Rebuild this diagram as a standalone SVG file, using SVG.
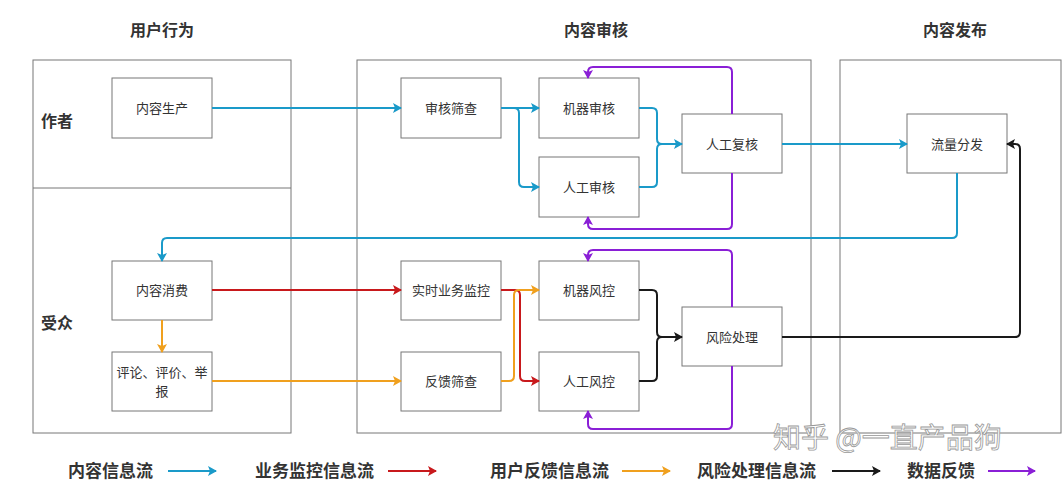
<svg xmlns="http://www.w3.org/2000/svg" width="1062" height="484" viewBox="0 0 1062 484">
<style>
text{font-family:"Noto Sans CJK SC","Noto Sans",sans-serif;fill:#333}
.h{font-size:16px;font-weight:bold;text-anchor:middle}
.n rect{fill:#fff;stroke:#777;stroke-width:1}
.n text{font-size:13px;text-anchor:middle}
.p{fill:#fff;stroke:#777;stroke-width:1}
.c path{fill:none;stroke-width:2}
.b{stroke:#1a9ac9}.r{stroke:#c8191c}.o{stroke:#f0a01e}.k{stroke:#1a1a1a}.u{stroke:#8a1fd6}
.lg{font-size:17px;font-weight:bold}
.la{fill:none;stroke-width:2}
</style>
<defs>
<marker id="mb" markerWidth="10" markerHeight="10" refX="8" refY="5" orient="auto" markerUnits="userSpaceOnUse"><path d="M0,0L9,5L0,10L2,5Z" fill="#1a9ac9"/></marker>
<marker id="mr" markerWidth="10" markerHeight="10" refX="8" refY="5" orient="auto" markerUnits="userSpaceOnUse"><path d="M0,0L9,5L0,10L2,5Z" fill="#c8191c"/></marker>
<marker id="mo" markerWidth="10" markerHeight="10" refX="8" refY="5" orient="auto" markerUnits="userSpaceOnUse"><path d="M0,0L9,5L0,10L2,5Z" fill="#f0a01e"/></marker>
<marker id="mk" markerWidth="10" markerHeight="10" refX="8" refY="5" orient="auto" markerUnits="userSpaceOnUse"><path d="M0,0L9,5L0,10L2,5Z" fill="#1a1a1a"/></marker>
<marker id="mu" markerWidth="10" markerHeight="10" refX="8" refY="5" orient="auto" markerUnits="userSpaceOnUse"><path d="M0,0L9,5L0,10L2,5Z" fill="#8a1fd6"/></marker>
</defs>
<rect width="1062" height="484" fill="#fff"/>
<g id="panels">
<rect class="p" x="33" y="60" width="258" height="373"/>
<line x1="33" y1="188" x2="291" y2="188" stroke="#777"/>
<rect class="p" x="357" y="60" width="454" height="373"/>
<rect class="p" x="840" y="60" width="221" height="373"/>
<text class="h" x="162" y="36">用户行为</text>
<text class="h" x="596" y="36">内容审核</text>
<text class="h" x="955" y="36">内容发布</text>
<text class="h" x="57" y="127">作者</text>
<text class="h" x="57" y="329">受众</text>
</g>
<g id="n1" class="n"><rect x="112" y="78" width="100" height="60"/><text x="162" y="113">内容生产</text></g>
<g id="n2" class="n"><rect x="401" y="78" width="100" height="60"/><text x="451" y="113">审核筛查</text></g>
<g id="n3" class="n"><rect x="539" y="78" width="100" height="60"/><text x="589" y="113">机器审核</text></g>
<g id="n4" class="n"><rect x="539" y="157" width="100" height="60"/><text x="589" y="192">人工审核</text></g>
<g id="n5" class="n"><rect x="682" y="114" width="100" height="59"/><text x="732" y="149">人工复核</text></g>
<g id="n6" class="n"><rect x="907" y="114" width="100" height="59"/><text x="957" y="149">流量分发</text></g>
<g id="n7" class="n"><rect x="112" y="261" width="100" height="59"/><text x="162" y="295">内容消费</text></g>
<g id="n8" class="n"><rect x="112" y="352" width="100" height="59"/><text x="162" y="377">评论、评价、举</text><text x="162" y="396">报</text></g>
<g id="n9" class="n"><rect x="401" y="261" width="100" height="59"/><text x="451" y="295">实时业务监控</text></g>
<g id="n10" class="n"><rect x="401" y="352" width="100" height="59"/><text x="451" y="386">反馈筛查</text></g>
<g id="n11" class="n"><rect x="539" y="261" width="100" height="59"/><text x="589" y="295">机器风控</text></g>
<g id="n12" class="n"><rect x="539" y="352" width="100" height="59"/><text x="589" y="386">人工风控</text></g>
<g id="n13" class="n"><rect x="682" y="307" width="100" height="59"/><text x="732" y="342">风险处理</text></g>
<g id="connectors" class="c">
<path class="b" d="M212,108H401" marker-end="url(#mb)"/>
<path class="b" d="M501,108H539" marker-end="url(#mb)"/>
<path class="b" d="M514,108Q519,108 519,113V182Q519,187 524,187H539" marker-end="url(#mb)"/>
<path class="b" d="M639,108H652Q657,108 657,113V139Q657,144 662,144H682" marker-end="url(#mb)"/>
<path class="b" d="M639,187H652Q657,187 657,182V149Q657,144 662,144"/>
<path class="b" d="M782,144H907" marker-end="url(#mb)"/>
<path class="b" d="M957,173V233Q957,238 952,238H167Q162,238 162,243V261" marker-end="url(#mb)"/>
<path class="u" d="M732,114V72Q732,67 727,67H593Q588,67 588,72V78" marker-end="url(#mu)"/>
<path class="u" d="M732,173V224Q732,229 727,229H593Q588,229 588,224V217" marker-end="url(#mu)"/>
<path class="u" d="M732,307V255Q732,250 727,250H593Q588,250 588,255V261" marker-end="url(#mu)"/>
<path class="u" d="M732,366V424Q732,429 727,429H593Q588,429 588,424V411" marker-end="url(#mu)"/>
<path class="r" d="M212,290H401" marker-end="url(#mr)"/>
<path class="r" d="M501,290H515Q520,290 520,295V376Q520,381 525,381H539" marker-end="url(#mr)"/>
<path class="o" d="M162,320V352" marker-end="url(#mo)"/>
<path class="o" d="M212,381H401" marker-end="url(#mo)"/>
<path class="o" d="M501,381H509Q514,381 514,376V295Q514,290 519,290H539" marker-end="url(#mo)"/>
<path class="k" d="M639,290H652Q657,290 657,295V332Q657,337 662,337H682" marker-end="url(#mk)"/>
<path class="k" d="M639,381H652Q657,381 657,376V342Q657,337 662,337"/>
<path class="k" d="M782,337H1015Q1020,337 1020,332V149Q1020,144 1015,144H1007" marker-end="url(#mk)"/>
</g>
<g id="legend">
<text class="lg" x="68" y="477">内容信息流</text>
<path class="la" d="M168,471H216" stroke="#1a9ac9" marker-end="url(#mb)"/>
<text class="lg" x="255" y="477">业务监控信息流</text>
<path class="la" d="M388,471H436" stroke="#c8191c" marker-end="url(#mr)"/>
<text class="lg" x="490" y="477">用户反馈信息流</text>
<path class="la" d="M622,471H670" stroke="#f0a01e" marker-end="url(#mo)"/>
<text class="lg" x="697" y="477">风险处理信息流</text>
<path class="la" d="M832,471H880" stroke="#1a1a1a" marker-end="url(#mk)"/>
<text class="lg" x="907" y="477">数据反馈</text>
<path class="la" d="M988,471H1035" stroke="#8a1fd6" marker-end="url(#mu)"/>
</g>
<text x="773" y="448" font-size="28" stroke="#999" stroke-width="0.8" style="fill:#fff">知乎 @一直产品狗</text>
</svg>
